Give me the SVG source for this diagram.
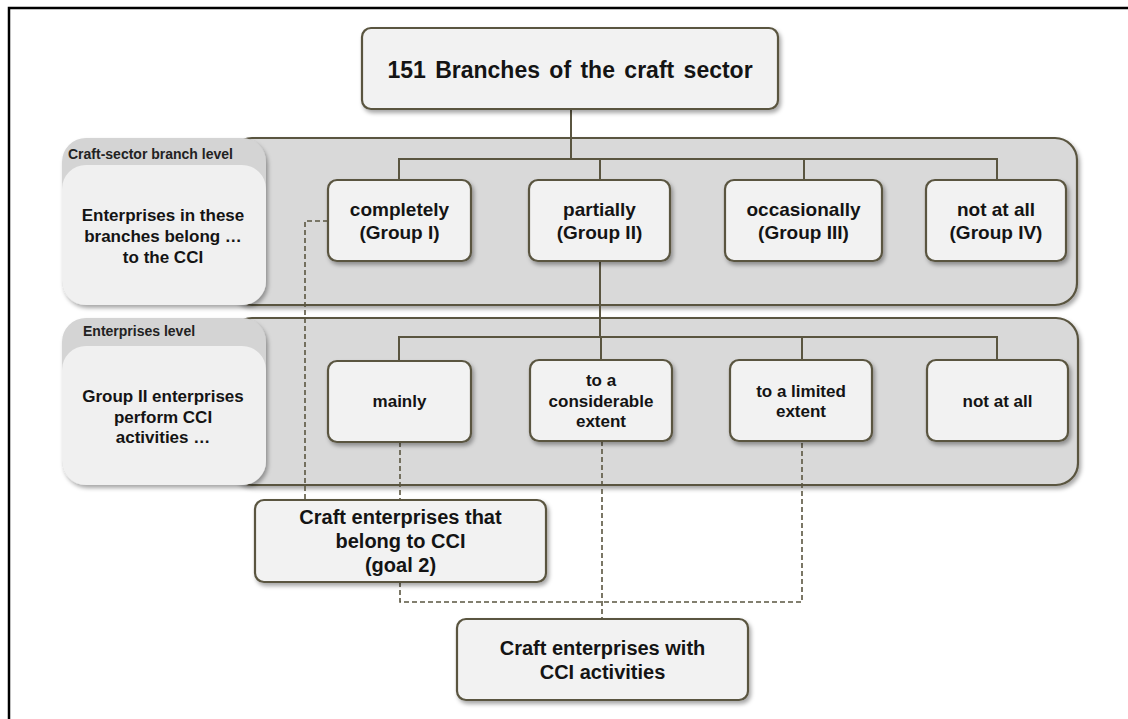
<svg xmlns="http://www.w3.org/2000/svg" width="1128" height="719" viewBox="0 0 1128 719">
<defs>
<filter id="sh" x="-10%" y="-10%" width="125%" height="130%">
<feDropShadow dx="2" dy="3" stdDeviation="2" flood-color="#000" flood-opacity="0.35"/>
</filter>
<style>
.node{fill:#f2f2f2;stroke:#5a5540;stroke-width:2.2}
.band{fill:#d9d9d9;stroke:#5a5540;stroke-width:2.2}
.lbl1{fill:#d4d4d4}
.lbl2{fill:#f0f0f0}
text{font-family:"Liberation Sans",Arial,sans-serif;font-weight:bold;fill:#141414;text-anchor:middle;dominant-baseline:central}
.t19{font-size:19px}
.t17{font-size:17px}
.t20{font-size:20px}
.t14{font-size:14px;text-anchor:start;fill:#222}
.solid{fill:none;stroke:#5a5540;stroke-width:2}
.dash{fill:none;stroke:#5a5540;stroke-width:1.6;stroke-dasharray:5,3}
</style>
</defs>
<rect width="1128" height="719" fill="#fff"/>
<path d="M9 719 V8 H1128" fill="none" stroke="#000" stroke-width="2.5"/>

<g id="band1">
<rect class="band" x="230" y="138" width="847" height="167" rx="22" filter="url(#sh)"/>
</g>
<g id="band2">
<rect class="band" x="230" y="318" width="848" height="167" rx="22" filter="url(#sh)"/>
</g>

<g id="connectors">
<path class="solid" d="M571 109 V159 M399 180 V159 H997 V180 M600 159 V180 M804 159 V180"/>
<path class="solid" d="M600 261 V337 M399 361 V337 H997 V360 M601 337 V360 M802 337 V360"/>
<path class="dash" d="M328 221 H305 V500"/>
<path class="dash" d="M400 442 V500 M400 582 V602 H802 V441"/>
<path class="dash" d="M602 441 V619"/>
</g>

<g id="label1">
<rect class="lbl1" x="62" y="138" width="204" height="167" rx="24" filter="url(#sh)"/>
<rect class="lbl2" x="62" y="165" width="204" height="140" rx="24"/>
<text class="t14" x="68" y="154">Craft-sector branch level</text>
<text class="t17" x="163" y="215">Enterprises in these</text>
<text class="t17" x="163" y="236">branches belong …</text>
<text class="t17" x="163" y="257">to the CCI</text>
</g>
<g id="label2">
<rect class="lbl1" x="62" y="318" width="204" height="167" rx="24" filter="url(#sh)"/>
<rect class="lbl2" x="62" y="346" width="204" height="139" rx="24"/>
<text class="t14" x="83" y="331">Enterprises level</text>
<text class="t17" x="163" y="396">Group II enterprises</text>
<text class="t17" x="163" y="417">perform CCI</text>
<text class="t17" x="163" y="437">activities …</text>
</g>

<g id="top">
<rect class="node" x="362" y="28" width="416" height="81" rx="9" filter="url(#sh)"/>
<text x="570" y="70" style="font-size:23px;word-spacing:3px">151 Branches of the craft sector</text>
</g>

<g id="completely">
<rect class="node" x="328" y="180" width="143" height="81" rx="9" filter="url(#sh)"/>
<text class="t19" x="399.5" y="209">completely</text>
<text class="t19" x="399.5" y="232">(Group I)</text>
</g>
<g id="partially">
<rect class="node" x="529" y="180" width="141" height="81" rx="9" filter="url(#sh)"/>
<text class="t19" x="599.5" y="209">partially</text>
<text class="t19" x="599.5" y="232">(Group II)</text>
</g>
<g id="occasionally">
<rect class="node" x="725" y="180" width="157" height="81" rx="9" filter="url(#sh)"/>
<text class="t19" x="803.5" y="209">occasionally</text>
<text class="t19" x="803.5" y="232">(Group III)</text>
</g>
<g id="notatall1">
<rect class="node" x="926" y="180" width="140" height="81" rx="9" filter="url(#sh)"/>
<text class="t19" x="996" y="209">not at all</text>
<text class="t19" x="996" y="232">(Group IV)</text>
</g>

<g id="mainly">
<rect class="node" x="328" y="361" width="143" height="81" rx="9" filter="url(#sh)"/>
<text class="t17" x="399.5" y="401">mainly</text>
</g>
<g id="considerable">
<rect class="node" x="530" y="360" width="142" height="81" rx="9" filter="url(#sh)"/>
<text class="t17" x="601" y="380">to a</text>
<text class="t17" x="601" y="401">considerable</text>
<text class="t17" x="601" y="421">extent</text>
</g>
<g id="limited">
<rect class="node" x="730" y="360" width="142" height="81" rx="9" filter="url(#sh)"/>
<text class="t17" x="801" y="391">to a limited</text>
<text class="t17" x="801" y="411">extent</text>
</g>
<g id="notatall2">
<rect class="node" x="927" y="360" width="141" height="81" rx="9" filter="url(#sh)"/>
<text class="t17" x="997.5" y="401">not at all</text>
</g>

<g id="goal2">
<rect class="node" x="255" y="500" width="291" height="82" rx="9" filter="url(#sh)"/>
<text class="t20" x="400.5" y="517">Craft enterprises that</text>
<text class="t20" x="400.5" y="541">belong to CCI</text>
<text class="t20" x="400.5" y="565">(goal 2)</text>
</g>
<g id="cciact">
<rect class="node" x="457" y="619" width="291" height="81" rx="9" filter="url(#sh)"/>
<text class="t20" x="602.5" y="648">Craft enterprises with</text>
<text class="t20" x="602.5" y="672">CCI activities</text>
</g>
</svg>
